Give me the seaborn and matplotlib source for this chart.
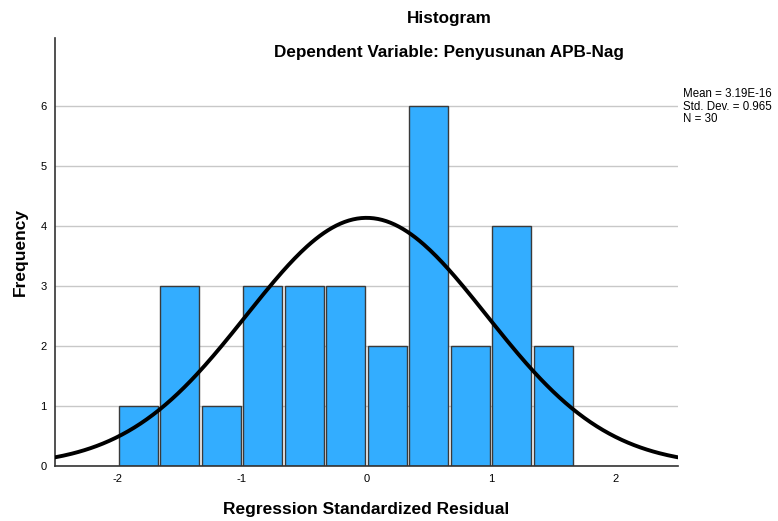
import matplotlib
matplotlib.use("Agg")
import matplotlib.pyplot as plt
import seaborn as sns
import numpy as np

# residual histogram (SPSS style), bins of width 1/3 starting at -2
bin_edges = [-2 + k / 3 for k in range(12)]
counts = [1, 3, 1, 3, 3, 3, 2, 6, 2, 4, 2]
mean_res = 3.19e-16
sd_res = 0.965
n_obs = 30
y_ticks = [0, 1, 2, 3, 4, 5, 6]
x_ticks = [-2, -1, 0, 1, 2]

sns.set_style("white")
plt.rcParams["font.family"] = ["Liberation Sans", "DejaVu Sans"]
plt.rcParams["axes.unicode_minus"] = False
plt.rcParams["text.color"] = "black"
plt.rcParams["axes.labelcolor"] = "black"
plt.rcParams["xtick.color"] = "black"
plt.rcParams["ytick.color"] = "black"

fig = plt.figure(figsize=(7.78, 5.21), dpi=100)
ax = fig.add_axes([0.0707, 0.1056, 0.8008, 0.8214])

centers = [(bin_edges[i] + bin_edges[i + 1]) / 2 for i in range(len(counts))]
sns.histplot(x=centers, weights=counts, bins=bin_edges, ax=ax,
             color="#33adff", alpha=1, edgecolor="#3a3a3a", linewidth=1.0,
             shrink=0.94, zorder=2)

# normal curve scaled to counts
bw = bin_edges[1] - bin_edges[0]
xs = np.linspace(-2.5, 2.5, 300)
ys = n_obs * bw * np.exp(-0.5 * ((xs - mean_res) / sd_res) ** 2) / (sd_res * np.sqrt(2 * np.pi))
sns.lineplot(x=xs, y=ys, ax=ax, color="black", linewidth=2.8, zorder=3)

ax.set_xlim(-2.5, 2.5)
ax.set_ylim(0, 7.13)
ax.set_yticks(y_ticks)
ax.set_xticks(x_ticks)
ax.tick_params(axis="both", labelsize=8, length=0, pad=6)
ax.yaxis.grid(True, color="#c8c8c8", linewidth=1, zorder=0)
ax.set_axisbelow(True)
for s in ["top", "right"]:
    ax.spines[s].set_visible(False)
for s in ["left", "bottom"]:
    ax.spines[s].set_color("#333333")
    ax.spines[s].set_linewidth(1.2)

ax.set_xlabel("Regression Standardized Residual", fontsize=12.5, fontweight="bold", labelpad=13)
ax.set_ylabel("Frequency", fontsize=12.5, fontweight="bold", labelpad=9)

fig.text(0.577, 0.965, "Histogram", ha="center", va="center", fontsize=12.3, fontweight="bold")
fig.text(0.577, 0.900, "Dependent Variable: Penyusunan APB-Nag", ha="center", va="center",
         fontsize=12.3, fontweight="bold")
fig.text(0.878, 0.795, f"Mean = 3.19E-16\nStd. Dev. = {sd_res}\nN = {n_obs}",
         ha="left", va="center", fontsize=8.3, linespacing=1.05)

fig.savefig("out.png", dpi=100)
